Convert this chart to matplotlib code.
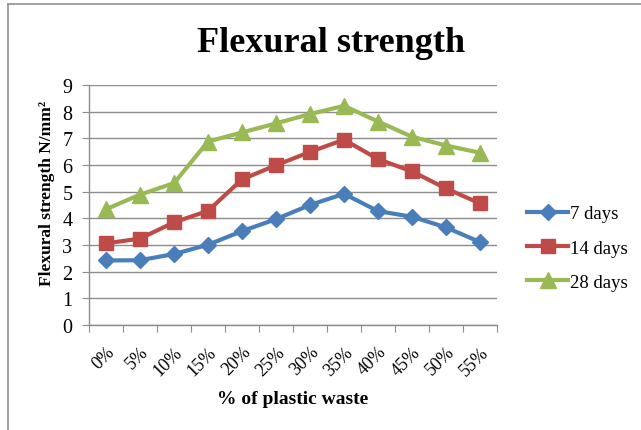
import matplotlib
matplotlib.use("Agg")
import matplotlib.pyplot as plt
from matplotlib.lines import Line2D

categories = ["0%", "5%", "10%", "15%", "20%", "25%", "30%", "35%", "40%", "45%", "50%", "55%"]
days7 = [2.42, 2.43, 2.66, 3.01, 3.52, 3.97, 4.50, 4.92, 4.27, 4.06, 3.66, 3.11]
days14 = [3.06, 3.24, 3.85, 4.28, 5.46, 5.99, 6.49, 6.95, 6.22, 5.76, 5.12, 4.56]
days28 = [4.34, 4.89, 5.32, 6.88, 7.22, 7.56, 7.91, 8.22, 7.63, 7.06, 6.73, 6.46]
series_names = ["7 days", "14 days", "28 days"]
yticks = list(range(0, 10))

plt.rcParams['font.family'] = ['Liberation Serif', 'DejaVu Serif']

W, H = 641, 431
fig = plt.figure(figsize=(W/100, H/100), dpi=100)
ax = fig.add_axes([89/W, 1-326/H, (497-89)/W, (326-86)/H])

x = list(range(len(categories)))
ax.plot(x, days7, color="#4a7ebb", marker="D", markersize=8, linewidth=3, label=series_names[0])
ax.plot(x, days14, color="#be4b48", marker="s", markersize=10, linewidth=3, label=series_names[1])
ax.plot(x, days28, color="#98b954", marker="^", markersize=11, linewidth=3, label=series_names[2])

ax.set_xlim(-0.5, len(categories) - 0.5)
ax.set_ylim(0, 9)
ax.set_yticks(yticks)
ax.set_yticklabels([str(t) for t in yticks], fontsize=14.5)
ax.yaxis.grid(True, color="#8c8c8c", linewidth=1)
ax.set_axisbelow(True)

ax.set_xticks([i - 0.5 for i in range(len(categories) + 1)])
ax.set_xticklabels([])
ax.set_xticks(x, minor=True)
ax.set_xticklabels(categories, minor=True, rotation=45, ha="right", va="top",
                   fontsize=13, rotation_mode="anchor")
ax.tick_params(axis="x", which="minor", length=0, pad=13)
ax.tick_params(axis="x", which="major", length=5, color="#8c8c8c", direction="out")
ax.tick_params(axis="y", length=5, color="#8c8c8c", direction="out", pad=7)

for s in ["top", "right"]:
    ax.spines[s].set_visible(False)
for s in ["left", "bottom"]:
    ax.spines[s].set_color("#8c8c8c")
    ax.spines[s].set_linewidth(1)

ax.set_xlabel("% of plastic waste", fontsize=14, fontweight="bold", labelpad=8)
ax.set_ylabel("Flexural strength N/mm²", fontsize=12.5, fontweight="bold")
ax.yaxis.set_label_coords((55-89)/408, (326-193)/240)

fig.text(331/W, 1-44/H, "Flexural strength", fontsize=26, fontweight="bold",
         ha="center", va="center")

fig.legend(*ax.get_legend_handles_labels(), loc="center left",
           bbox_to_anchor=(527/W, 1-249/H), frameon=False, fontsize=13.5,
           handlelength=2.2, labelspacing=0.92, handletextpad=0.1,
           borderpad=0, borderaxespad=0)

border = "#8f8f8f"
fig.add_artist(Line2D([8/W, 1], [1-5/H, 1-5/H], transform=fig.transFigure,
                      color=border, linewidth=1.2))
fig.add_artist(Line2D([8/W, 8/W], [0, 1-5/H], transform=fig.transFigure,
                      color=border, linewidth=1.2))

fig.savefig("out.png", dpi=100)
